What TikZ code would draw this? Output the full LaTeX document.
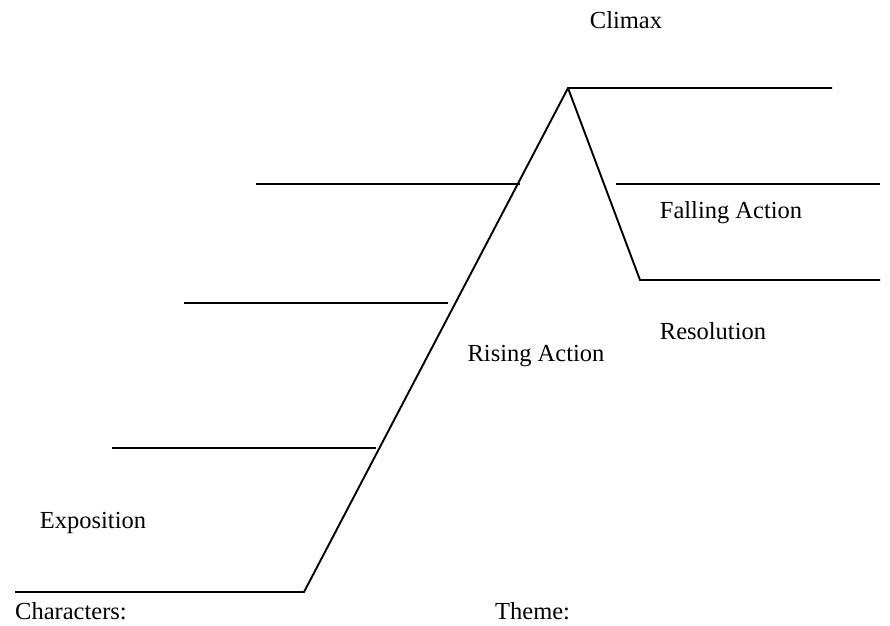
\documentclass[tikz,border=0pt]{standalone}
\usepackage{fontspec}
\setmainfont{Liberation Serif}
\begin{document}
\begin{tikzpicture}[x=1pt,y=-1pt,
  plotline/.style={line width=1.9pt,line join=miter},
  lbl/.style={inner sep=0pt,font=\fontsize{24.5}{28}\selectfont}]
\useasboundingbox (0,0) rectangle (890,625);
% main plot line
\coordinate (s) at (15,592);
\coordinate (b) at (304,592);
\coordinate (p) at (568,88);
\coordinate (pe) at (832,88);
\coordinate (f) at (640,280);
\coordinate (fe) at (880,280);
\draw[plotline] (s) -- (b) -- (p) -- (pe);
\draw[plotline] (p) -- (f) -- (fe);
% extra lines
\coordinate (h1a) at (616,184); \coordinate (h1b) at (880,184);
\coordinate (h2a) at (256,184); \coordinate (h2b) at (520,184);
\coordinate (h3a) at (184,303); \coordinate (h3b) at (448,303);
\coordinate (h4a) at (112,448); \coordinate (h4b) at (376,448);
\draw[plotline] (h1a) -- (h1b);
\draw[plotline] (h2a) -- (h2b);
\draw[plotline] (h3a) -- (h3b);
\draw[plotline] (h4a) -- (h4b);
% labels
\node[lbl] (climax) at (626,20) {Climax};
\node[lbl] (falling) at (731,213) {Falling Action};
\node[lbl] (resol) at (713,331) {Resolution};
\node[lbl] (rising) at (536,356) {Rising Action};
\node[lbl] (expo) at (93,523) {Exposition};
\node[lbl,anchor=west] (chars) at (15,611) {Characters:};
\node[lbl,anchor=west] (theme) at (495,611) {Theme:};
\end{tikzpicture}
\end{document}
